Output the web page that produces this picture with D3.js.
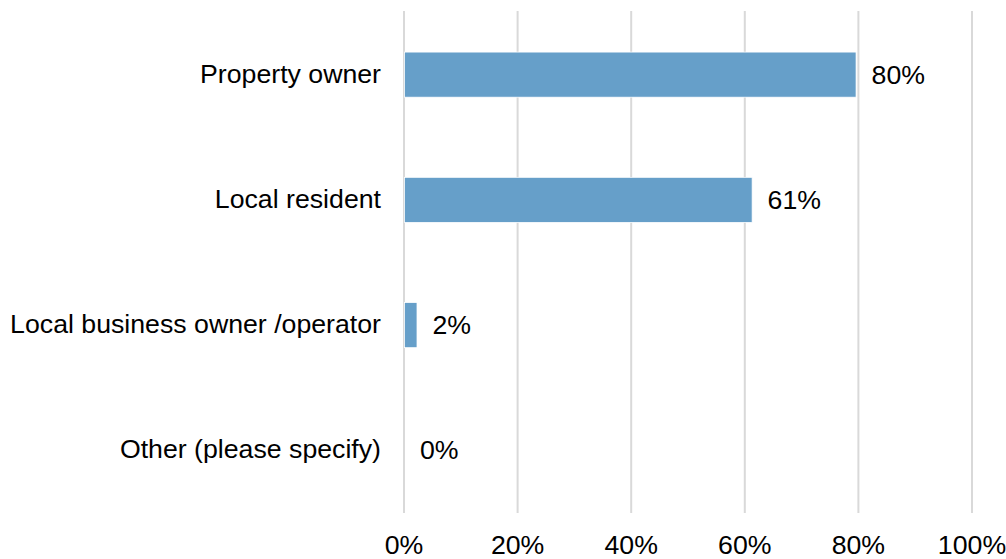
<!DOCTYPE html>
<html>
<head>
<meta charset="utf-8">
<script src="https://cdnjs.cloudflare.com/ajax/libs/d3/7.8.5/d3.min.js"></script>
<style>
  body { margin: 0; background: #fff; }
  text { font-family: "Liberation Sans", Arial, sans-serif; fill: #000; }
</style>
</head>
<body>
<div id="chart"></div>
<script>
var categories = ['Property owner', 'Local resident', 'Local business owner /operator', 'Other (please specify)'];
var values = [79.5, 61.2, 2.2, 0];
var ticks = [0, 20, 40, 60, 80, 100];

var width = 1006, height = 559;
var plotLeft = 404, plotRight = 972, plotTop = 12, plotBottom = 513;
var fontSize = 26.7;

var svg = d3.select('#chart')
    .append('svg')
    .attr('width', width)
    .attr('height', height);

var xScale = d3.scaleLinear()
    .domain([0, 100])
    .range([plotLeft, plotRight]);

var yScale = d3.scaleBand()
    .domain(categories)
    .range([plotTop, plotBottom])
    .paddingInner(0.64)
    .paddingOuter(0.32);

// gridlines
svg.append('g').selectAll('line')
    .data(ticks)
    .enter().append('line')
    .attr('x1', function (d) { return xScale(d); })
    .attr('x2', function (d) { return xScale(d); })
    .attr('y1', plotTop - 1)
    .attr('y2', plotBottom)
    .attr('stroke', '#d9d9d9')
    .attr('stroke-width', 2);

// x tick labels
svg.append('g').selectAll('text')
    .data(ticks)
    .enter().append('text')
    .attr('x', function (d) { return xScale(d); })
    .attr('y', 554)
    .attr('text-anchor', 'middle')
    .attr('font-size', fontSize)
    .text(function (d) { return d + '%'; });

// bars
svg.append('g').selectAll('rect')
    .data(categories)
    .enter().append('rect')
    .attr('x', xScale(0) + 0.5)
    .attr('y', function (d) { return yScale(d); })
    .attr('width', function (d, i) { return Math.max(0, xScale(values[i]) - xScale(0)); })
    .attr('height', yScale.bandwidth())
    .attr('fill', '#669fc9')
    .attr('stroke', function (d, i) { return values[i] > 0 ? '#ffffff' : 'none'; })
    .attr('stroke-width', 0.75);

// category labels
svg.append('g').selectAll('text')
    .data(categories)
    .enter().append('text')
    .attr('x', 381)
    .attr('y', function (d) { return yScale(d) + yScale.bandwidth() / 2 + 8; })
    .attr('text-anchor', 'end')
    .attr('font-size', fontSize)
    .text(function (d) { return d; });

// value labels
svg.append('g').selectAll('text')
    .data(categories)
    .enter().append('text')
    .attr('x', function (d, i) { return xScale(values[i]) + 16; })
    .attr('y', function (d) { return yScale(d) + yScale.bandwidth() / 2 + 9; })
    .attr('font-size', fontSize)
    .text(function (d, i) { return Math.round(values[i]) + '%'; });
</script>
</body>
</html>
